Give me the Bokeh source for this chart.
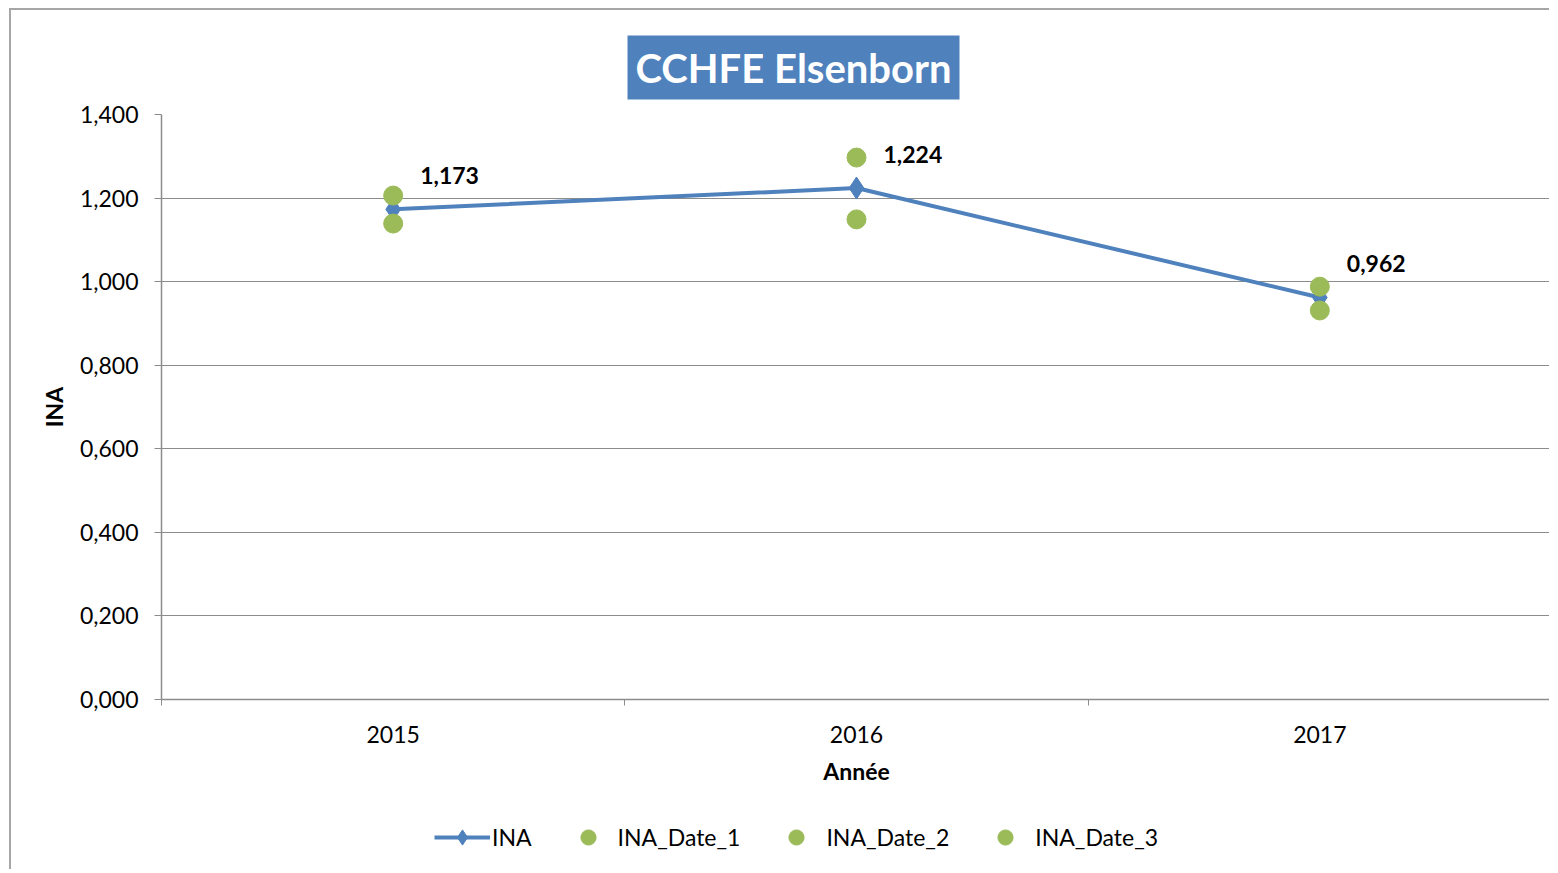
import numpy as np
from bokeh.plotting import figure
from bokeh.layouts import column
from bokeh.models import (ColumnDataSource, FixedTicker, CustomJSTickFormatter,
                          Legend, LegendItem, Range1d, Title)
from bokeh.core.properties import value
from bokeh.embed import file_html
from bokeh.resources import INLINE

years = [2015, 2016, 2017]
ina = [1.173, 1.224, 0.962]
ina_date_1 = [1.206, 1.297, 0.988]
ina_date_2 = [1.139, 1.149, 0.931]
ina_date_3 = [np.nan, np.nan, np.nan]
ina_labels = ["1,173", "1,224", "0,962"]
y_ticks = [0.0, 0.2, 0.4, 0.6, 0.8, 1.0, 1.2, 1.4]
title_text = "CCHFE Elsenborn"

FONT = "Lato"
FS = "23px"
BLUE = "#4F81BD"
GREEN = "#9BBB59"
GRID = "#8C8C8C"
FRAME = "2px solid #a6a6a6"

p = figure(width=1540, height=795, output_backend="svg", toolbar_location=None,
           x_range=Range1d(2014.5, 2017.5), y_range=Range1d(0, 1.4),
           min_border_left=150, min_border_right=0, min_border_top=104,
           min_border_bottom=106)
p.styles = {"border-left": FRAME, "border-top": FRAME, "margin-left": "9px",
            "margin-top": "8px"}
p.outline_line_color = None
p.border_fill_color = "white"

t = Title(text=title_text, align="left", vertical_align="top", text_font=FONT,
          text_font_size="40px", text_font_style="bold", text_color="white",
          background_fill_color=BLUE, padding=8, standoff=26, offset=466)
p.add_layout(t, "above")

# axes
p.xaxis.ticker = FixedTicker(ticks=years, minor_ticks=[2014.5, 2015.5, 2016.5, 2017.5])
p.xaxis.major_tick_line_color = None
p.xaxis.major_tick_out = 0
p.xaxis.major_tick_in = 0
p.xaxis.minor_tick_out = 6
p.xaxis.minor_tick_in = 0
p.xaxis.minor_tick_line_color = GRID
p.xaxis.axis_line_color = GRID
p.xaxis.axis_line_width = 1.5
p.xaxis.major_label_text_font = FONT
p.xaxis.major_label_text_font_size = FS
p.xaxis.major_label_text_color = "black"
p.xaxis.major_label_standoff = 20
p.xaxis.axis_label = "Année"
p.xaxis.axis_label_text_font = FONT
p.xaxis.axis_label_text_font_size = FS
p.xaxis.axis_label_text_font_style = "bold"
p.xaxis.axis_label_text_color = "black"
p.xaxis.axis_label_standoff = 11

p.yaxis.ticker = FixedTicker(ticks=y_ticks, minor_ticks=[])
p.yaxis.formatter = CustomJSTickFormatter(code="return tick.toFixed(3).replace('.', ',');")
p.yaxis.major_tick_out = 7
p.yaxis.major_tick_in = 0
p.yaxis.major_tick_line_color = GRID
p.yaxis.axis_line_color = GRID
p.yaxis.axis_line_width = 1.5
p.yaxis.major_label_text_font = FONT
p.yaxis.major_label_text_font_size = FS
p.yaxis.major_label_text_color = "black"
p.yaxis.major_label_standoff = 16
p.yaxis.axis_label = "INA"
p.yaxis.axis_label_text_font = FONT
p.yaxis.axis_label_text_font_size = FS
p.yaxis.axis_label_text_font_style = "bold"
p.yaxis.axis_label_text_color = "black"
p.yaxis.axis_label_standoff = 9

p.xgrid.grid_line_color = None
p.ygrid.grid_line_color = GRID
p.ygrid.grid_line_width = 1.2

src = ColumnDataSource(dict(x=years, ina=ina, d1=ina_date_1, d2=ina_date_2,
                            d3=ina_date_3, lab=ina_labels))

line_kw = dict(line_color=BLUE, line_width=4)
dia_kw = dict(marker="diamond", size=22, fill_color=BLUE, line_color=BLUE)
dot_kw = dict(marker="circle", size=19, fill_color=GREEN, line_color=GREEN)

p.line("x", "ina", source=src, **line_kw)
p.scatter("x", "ina", source=src, **dia_kw)
p.scatter("x", "d1", source=src, **dot_kw)
p.scatter("x", "d2", source=src, **dot_kw)
p.scatter("x", "d3", source=src, **dot_kw)

p.text("x", "ina", text="lab", source=src, x_offset=27, y_offset=-34,
       text_align="left", text_baseline="middle", text_font=value(FONT),
       text_font_size=FS, text_font_style="bold", text_color="black")

# legend strip below the chart (its renderers lie outside its visible range)
lg = figure(width=1540, height=66, output_backend="svg", toolbar_location=None,
            x_range=Range1d(0, 1), y_range=Range1d(0, 1),
            x_axis_location=None, y_axis_location=None,
            min_border_left=0, min_border_right=0, min_border_top=0,
            min_border_bottom=0)
lg.styles = {"border-left": FRAME, "margin-left": "9px"}
lg.outline_line_color = None
lg.xgrid.grid_line_color = None
lg.ygrid.grid_line_color = None
r_l = lg.line("x", "ina", source=src, **line_kw)
r_m = lg.scatter("x", "ina", source=src, **dia_kw)
r_1 = lg.scatter("x", "d1", source=src, **dot_kw)
r_2 = lg.scatter("x", "d2", source=src, **dot_kw)
r_3 = lg.scatter("x", "d3", source=src, **dot_kw)

legend = Legend(items=[
    LegendItem(label="INA", renderers=[r_l, r_m], index=0),
    LegendItem(label="INA_Date_1", renderers=[r_1], index=0),
    LegendItem(label="INA_Date_2", renderers=[r_2], index=0),
    LegendItem(label="INA_Date_3", renderers=[r_3], index=0),
], orientation="horizontal", location=(273, 13), glyph_width=56,
    glyph_height=38, label_standoff=2, spacing=28, padding=0, margin=0,
    border_line_color=None, background_fill_alpha=0,
    label_text_font=FONT, label_text_font_size=FS, label_text_color="black")
lg.add_layout(legend, "center")

layout = column(p, lg, spacing=0)
open("out.html", "w").write(file_html(layout, INLINE))
